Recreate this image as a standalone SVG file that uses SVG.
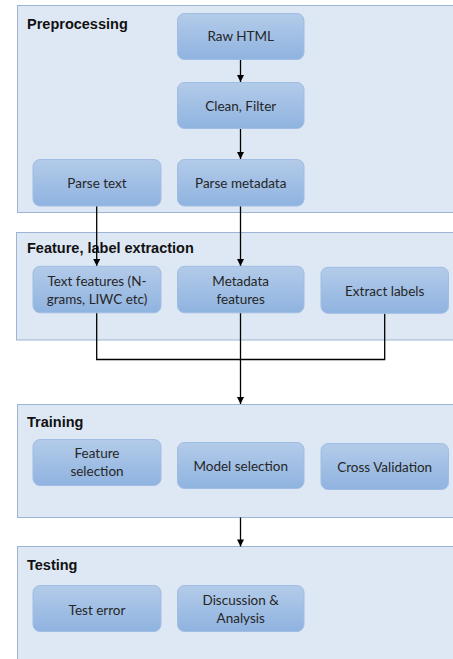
<svg xmlns="http://www.w3.org/2000/svg" width="453" height="659" viewBox="0 0 453 659">
<style>
.panel{fill:#dee8f4;stroke:#9db4d2;stroke-width:1}
.ptitle{font-family:"Liberation Sans",Arial,sans-serif;font-weight:bold;font-size:14.5px;fill:#111}
.node rect{fill:url(#ng);stroke:#a0bde3;stroke-width:1}
.node text{font-family:Lato,"Open Sans",sans-serif;font-size:13.5px;fill:#262626;text-anchor:middle}
.conn{fill:none;stroke:#000;stroke-width:1.3}
</style>
<defs>
<linearGradient id="ng" x1="0" y1="0" x2="0" y2="1">
<stop offset="0" stop-color="#b3cbe9"/>
<stop offset="1" stop-color="#8fb3e0"/>
</linearGradient>
<marker id="ah" viewBox="0 0 8 8" refX="8" refY="4" markerWidth="7.5" markerHeight="7" orient="auto" markerUnits="userSpaceOnUse">
<path d="M0,0 L8,4 L0,8 z" fill="#000"/>
</marker>
</defs>
<g id="panels">
<rect class="panel" x="17.5" y="5.5" width="440" height="207"/>
<rect class="panel" x="16.5" y="232.5" width="441" height="107.5"/>
<rect class="panel" x="17.5" y="404.5" width="440" height="113"/>
<rect class="panel" x="17.5" y="546.5" width="440" height="120"/>
<text class="ptitle" x="27" y="29">Preprocessing</text>
<text class="ptitle" x="27" y="253">Feature, label extraction</text>
<text class="ptitle" x="27" y="427">Training</text>
<text class="ptitle" x="27" y="570">Testing</text>
</g>
<g id="connectors">
<line class="conn" x1="240.5" y1="59.5" x2="240.5" y2="82" marker-end="url(#ah)"/>
<line class="conn" x1="240.5" y1="128.5" x2="240.5" y2="159" marker-end="url(#ah)"/>
<line class="conn" x1="96.7" y1="206" x2="96.7" y2="266" marker-end="url(#ah)"/>
<line class="conn" x1="240.5" y1="206" x2="240.5" y2="266" marker-end="url(#ah)"/>
<polyline class="conn" points="96.7,312.5 96.7,359.5 384.7,359.5 384.7,313.5"/>
<line class="conn" x1="240.5" y1="312.5" x2="240.5" y2="404" marker-end="url(#ah)"/>
<line class="conn" x1="240.5" y1="517.5" x2="240.5" y2="546.5" marker-end="url(#ah)"/>
</g>
<g id="raw-html" class="node"><rect x="177.5" y="13.5" width="126.5" height="46" rx="7"/><text x="240.7" y="41">Raw HTML</text></g>
<g id="clean-filter" class="node"><rect x="177.5" y="82.5" width="126.5" height="46" rx="7"/><text x="240.7" y="111">Clean, Filter</text></g>
<g id="parse-text" class="node"><rect x="33" y="159.5" width="128" height="46.5" rx="7"/><text x="97" y="188">Parse text</text></g>
<g id="parse-metadata" class="node"><rect x="177.5" y="159.5" width="126.5" height="46.5" rx="7"/><text x="240.7" y="188">Parse metadata</text></g>
<g id="text-features" class="node"><rect x="33" y="266.3" width="128" height="46.5" rx="7"/><text x="97" y="285.5">Text features (N-</text><text x="97" y="303.5">grams, LIWC etc)</text></g>
<g id="metadata-features" class="node"><rect x="177.5" y="266.3" width="126.5" height="46.5" rx="7"/><text x="240.7" y="285.5">Metadata</text><text x="240.7" y="303.5">features</text></g>
<g id="extract-labels" class="node"><rect x="321" y="267.3" width="127.5" height="46" rx="7"/><text x="384.7" y="295.5">Extract labels</text></g>
<g id="feature-selection" class="node"><rect x="33" y="439.5" width="128" height="46" rx="7"/><text x="97" y="458">Feature</text><text x="97" y="476">selection</text></g>
<g id="model-selection" class="node"><rect x="177.5" y="442.5" width="126.5" height="46" rx="7"/><text x="240.7" y="470.5">Model selection</text></g>
<g id="cross-validation" class="node"><rect x="321" y="443.5" width="127.5" height="46" rx="7"/><text x="384.7" y="472">Cross Validation</text></g>
<g id="test-error" class="node"><rect x="33" y="585.5" width="128" height="46" rx="7"/><text x="97" y="614.5">Test error</text></g>
<g id="discussion-analysis" class="node"><rect x="177.5" y="585.5" width="126.5" height="46" rx="7"/><text x="240.7" y="605">Discussion &amp;</text><text x="240.7" y="623">Analysis</text></g>
</svg>
